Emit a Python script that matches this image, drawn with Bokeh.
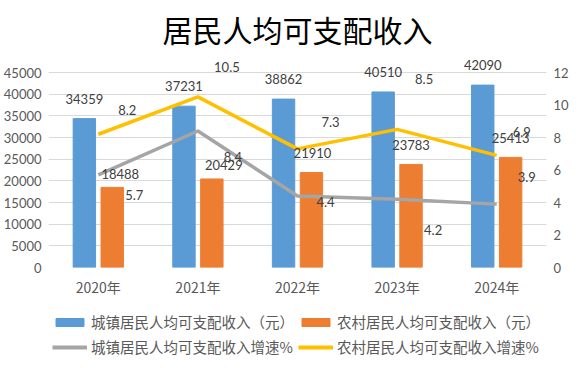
from bokeh.plotting import figure
from bokeh.layouts import column
from bokeh.models import (ColumnDataSource, Range1d, LinearAxis, FactorRange,
                          Legend, LegendItem, FixedTicker)
from bokeh.transform import dodge
from bokeh.core.properties import value
from bokeh.embed import file_html
from bokeh.resources import INLINE

# ---------------- data ----------------
years = ["2020年", "2021年", "2022年", "2023年", "2024年"]
urban_income = [34359, 37231, 38862, 40510, 42090]
rural_income = [18488, 20429, 21910, 23783, 25413]
urban_growth = [5.7, 8.4, 4.4, 4.2, 3.9]
rural_growth = [8.2, 10.5, 7.3, 8.5, 6.9]

left_ticks = [0, 5000, 10000, 15000, 20000, 25000, 30000, 35000, 40000, 45000]
right_ticks = [0, 2, 4, 6, 8, 10, 12]

series_names = ["城镇居民人均可支配收入（元）", "农村居民人均可支配收入（元）",
                "城镇居民人均可支配收入增速%", "农村居民人均可支配收入增速%"]

# label placement (screen pixel offsets, style only)
rural_bar_dx = [8, 12, 1, 0, 0]
rural_bar_dy = [-13, -14, -20, -19, -19]
urban_growth_dx = [36, 35, 28, 36, 30]
urban_growth_dy = [20, 26, 6, 31, -27]
rural_growth_dx = [29, 29, 33, 27, 25]
rural_growth_dy = [-24, -30, -27, -50, -23]

BLUE = "#5B9BD5"
ORANGE = "#ED7D31"
GREY = "#A5A5A5"
YELLOW = "#FFC000"
TXT = "#595959"
LBL = "#404040"
NUM_FONT = "Lato"
CJK_FONT = "Noto Sans CJK SC"

# axis extents: left 0..45000 maps to right 0..12; a little headroom above for labels
LEFT_MAX = 45000
RIGHT_MAX = 12
HEAD = 48000

src = ColumnDataSource(dict(
    year=years,
    urban=urban_income, rural=rural_income,
    urban_lbl=[str(v) for v in urban_income],
    rural_lbl=[str(v) for v in rural_income],
    ug=urban_growth, rg=rural_growth,
    ug_lbl=[f"{v:.1f}" for v in urban_growth],
    rg_lbl=[f"{v:.1f}" for v in rural_growth],
    rb_dx=rural_bar_dx, rb_dy=rural_bar_dy,
    ug_dx=urban_growth_dx, ug_dy=urban_growth_dy,
    rg_dx=rural_growth_dx, rg_dy=rural_growth_dy,
))

p = figure(x_range=FactorRange(factors=years, range_padding=0),
           y_range=Range1d(0, HEAD),
           frame_width=498, frame_height=208,
           output_backend="svg", toolbar_location=None,
           title="居民人均可支配收入",
           min_border_left=2, min_border_right=2,
           min_border_top=0, min_border_bottom=0)
p.extra_y_ranges = {"right": Range1d(0, RIGHT_MAX * HEAD / LEFT_MAX)}

p.outline_line_color = None
p.background_fill_color = "white"
p.border_fill_color = "white"

# title
p.title.align = "center"
p.title.vertical_align = "top"
p.title.text_font = CJK_FONT
p.title.text_font_size = "30px"
p.title.text_font_style = "normal"
p.title.text_color = "#000000"
p.title.standoff = 13

# grid
p.xgrid.grid_line_color = None
p.ygrid.grid_line_color = "#D9D9D9"
p.ygrid.grid_line_width = 1

# axes
p.yaxis.ticker = FixedTicker(ticks=left_ticks)
for ax in [p.yaxis[0], p.xaxis[0]]:
    ax.axis_line_color = None
    ax.major_tick_line_color = None
    ax.minor_tick_line_color = None
    ax.major_tick_out = 0
    ax.major_tick_in = 0
    ax.major_label_text_color = TXT
p.yaxis.major_label_text_font = NUM_FONT
p.yaxis.major_label_text_font_size = "13px"
p.yaxis.major_label_standoff = 7
p.xaxis.major_label_text_font = CJK_FONT
p.xaxis.major_label_text_font_size = "14px"
p.xaxis.major_label_standoff = 9

ry = LinearAxis(y_range_name="right", ticker=FixedTicker(ticks=right_ticks))
ry.axis_line_color = None
ry.major_tick_line_color = None
ry.minor_tick_line_color = None
ry.major_tick_out = 0
ry.major_tick_in = 0
ry.major_label_text_color = TXT
ry.major_label_text_font = NUM_FONT
ry.major_label_text_font_size = "13px"
ry.major_label_standoff = 7
p.add_layout(ry, "right")

# bars
bw = 0.225
p.vbar(x=dodge("year", -0.14, range=p.x_range), top="urban", width=bw,
       source=src, fill_color=BLUE, line_color=BLUE)
p.vbar(x=dodge("year", 0.14, range=p.x_range), top="rural", width=bw,
       source=src, fill_color=ORANGE, line_color=ORANGE)

# lines
p.line(x="year", y="ug", source=src, y_range_name="right",
       line_color=GREY, line_width=3.5)
p.line(x="year", y="rg", source=src, y_range_name="right",
       line_color=YELLOW, line_width=3.5)

# data labels
common = dict(text_font=value(NUM_FONT), text_font_size="13px",
              text_color=LBL, text_align="center", text_baseline="middle")
p.text(x=dodge("year", -0.14, range=p.x_range), y="urban", text="urban_lbl",
       source=src, y_offset=-20, **common)
p.text(x=dodge("year", 0.14, range=p.x_range), y="rural", text="rural_lbl",
       source=src, x_offset="rb_dx", y_offset="rb_dy", **common)
p.text(x="year", y="ug", text="ug_lbl", source=src, y_range_name="right",
       x_offset="ug_dx", y_offset="ug_dy", **common)
p.text(x="year", y="rg", text="rg_lbl", source=src, y_range_name="right",
       x_offset="rg_dx", y_offset="rg_dy", **common)

# ---------------- legend strip (below the chart) ----------------
pl = figure(width=564, height=62, x_range=Range1d(0, 1), y_range=Range1d(0, 1),
            output_backend="svg", toolbar_location=None,
            x_axis_location=None, y_axis_location=None,
            min_border_left=0, min_border_right=0,
            min_border_top=0, min_border_bottom=0)
pl.outline_line_color = None
pl.xgrid.grid_line_color = None
pl.ygrid.grid_line_color = None
pl.background_fill_color = "white"
pl.border_fill_color = "white"

# key-only renderers: their single point lies outside the visible range
key_src = ColumnDataSource(dict(x=[-5, -4], y=[-5, -4]))
k_ub = pl.vbar(x="x", top="y", width=0.1, source=key_src,
               fill_color=BLUE, line_color=BLUE)
k_rb = pl.vbar(x="x", top="y", width=0.1, source=key_src,
               fill_color=ORANGE, line_color=ORANGE)
k_ul = pl.line(x="x", y="y", source=key_src, line_color=GREY, line_width=4)
k_rl = pl.line(x="x", y="y", source=key_src, line_color=YELLOW, line_width=4)

legend = Legend(items=[
    LegendItem(label=series_names[0], renderers=[k_ub]),
    LegendItem(label=series_names[1], renderers=[k_rb]),
    LegendItem(label=series_names[2], renderers=[k_ul]),
    LegendItem(label=series_names[3], renderers=[k_rl]),
], orientation="horizontal", ncols=2)
legend.label_text_font = CJK_FONT
legend.label_text_font_size = "14.5px"
legend.label_text_color = TXT
legend.label_height = 19
legend.label_width = 203
legend.glyph_width = 35
legend.glyph_height = 10
legend.label_standoff = 4
legend.spacing = 4
legend.padding = 0
legend.margin = 0
legend.border_line_color = None
legend.background_fill_alpha = 0
legend.location = (4, 4)
pl.add_layout(legend, "center")

layout = column(p, pl, spacing=0)
open("out.html", "w").write(file_html(layout, INLINE))
